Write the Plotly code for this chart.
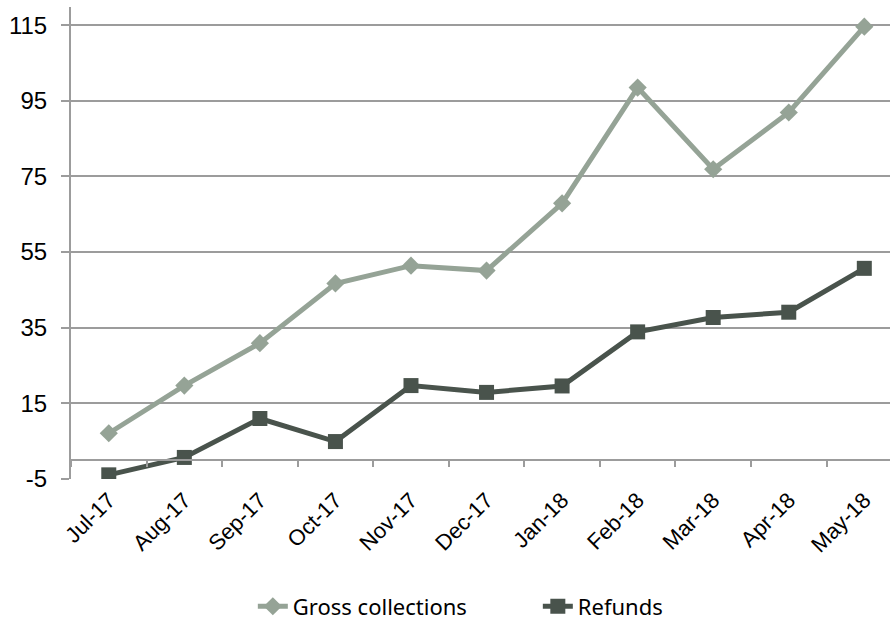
import plotly.graph_objects as go

months = ["Jul-17", "Aug-17", "Sep-17", "Oct-17", "Nov-17", "Dec-17",
          "Jan-18", "Feb-18", "Mar-18", "Apr-18", "May-18"]
gross_collections = [7.1, 19.7, 30.9, 46.7, 51.4, 50.1, 67.9, 98.5, 76.9, 91.9, 114.6]
refunds = [-3.9, 0.7, 11.0, 4.9, 19.7, 17.9, 19.6, 33.9, 37.7, 39.1, 50.7]
y_ticks = [-5, 15, 35, 55, 75, 95, 115]
y_tick_text = ["-5", "15", "35", "55", "75", "95", "115"]

Y_MIN, Y_MAX = -5, 119.8
GRID = "#9c9c9c"

fig = go.Figure()
fig.add_trace(go.Scatter(
    x=months, y=gross_collections, name="Gross collections",
    mode="lines+markers",
    line=dict(color="#95a396", width=5),
    marker=dict(symbol="diamond", size=14, color="#95a396"),
))
fig.add_trace(go.Scatter(
    x=months, y=refunds, name="Refunds",
    mode="lines+markers",
    line=dict(color="#49534c", width=5),
    marker=dict(symbol="square", size=15, color="#49534c"),
))
# carrier for the category axis drawn at zero
fig.add_trace(go.Scatter(
    x=months, y=[None] * len(months), xaxis="x2", showlegend=False,
    hoverinfo="skip", mode="lines",
))

zero_pos = (0 - Y_MIN) / (Y_MAX - Y_MIN)

fig.update_layout(
    width=890, height=620,
    margin=dict(l=71, r=0, t=7, b=141, autoexpand=False),
    paper_bgcolor="white", plot_bgcolor="white",
    font=dict(family="Liberation Sans, Arial, sans-serif", color="#000000"),
    xaxis=dict(
        type="category", range=[-0.5, 10.34], automargin=False,
        showgrid=False, showline=False, zeroline=False, ticks="",
        tickangle=-45, tickfont=dict(size=22), ticklabelstandoff=3,
    ),
    xaxis2=dict(
        type="category", overlaying="x", matches="x", anchor="free",
        position=zero_pos, showline=True, linecolor=GRID, linewidth=2,
        ticks="outside", tickson="boundaries", ticklen=6, tickwidth=2,
        tickcolor=GRID, showticklabels=False, showgrid=False,
    ),
    yaxis=dict(
        range=[Y_MIN, Y_MAX], tickvals=y_ticks, ticktext=y_tick_text,
        automargin=False,
        showgrid=True, gridcolor=GRID, gridwidth=2,
        showline=True, linecolor=GRID, linewidth=2,
        ticks="outside", ticklen=8, tickwidth=2, tickcolor=GRID,
        ticklabelstandoff=9, zeroline=False,
        tickfont=dict(size=24),
    ),
    legend=dict(
        orientation="h", x=0.57, xanchor="center", y=-0.27, yanchor="middle",
        font=dict(family="Liberation Sans Narrow, Noto Sans, sans-serif", size=22),
        entrywidth=240,
    ),
)

fig.write_html("out.html")
